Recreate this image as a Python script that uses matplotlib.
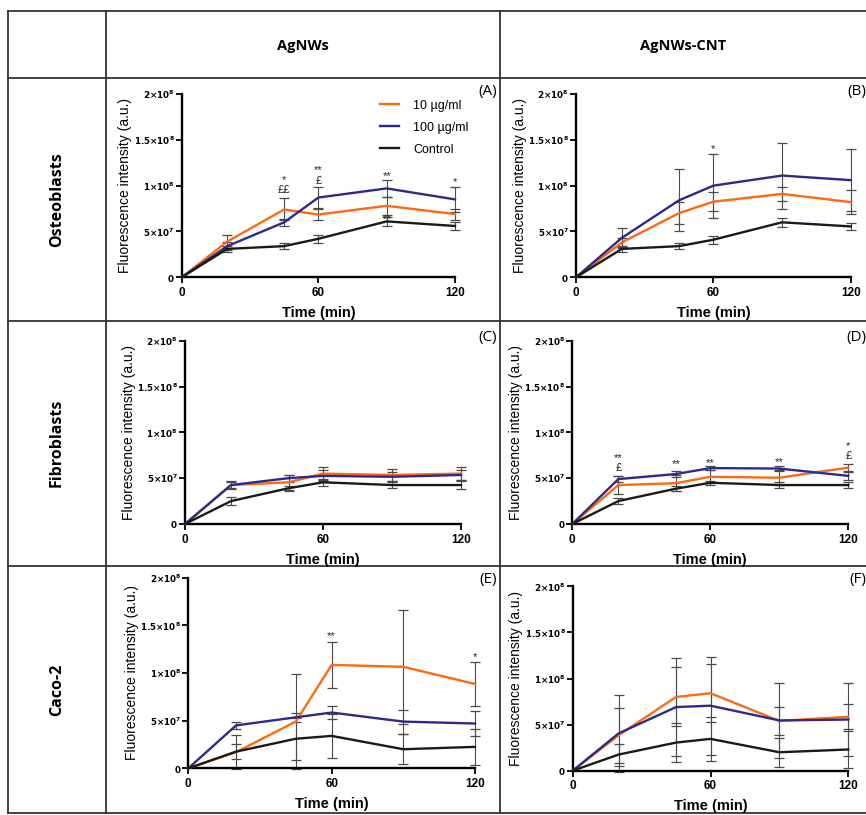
import matplotlib
matplotlib.use("Agg")
from matplotlib import pyplot as plt
import numpy as np

plt.rcParams['mathtext.fontset'] = 'dejavusans'

# time points (min) and values in units of 1e7 a.u.
times = [0, 20, 45, 60, 90, 120]

a_10 = [0, 3.9, 7.4, 6.85, 7.8, 6.9]
a_10_err = [0, 0.7, 1.2, 0.65, 1.0, 0.6]
a_100 = [0, 3.4, 6.0, 8.7, 9.7, 8.5]
a_100_err = [0, 0.4, 0.4, 1.15, 0.9, 1.4]
a_ctrl = [0, 3.1, 3.4, 4.2, 6.1, 5.6]
a_ctrl_err = [0, 0.3, 0.3, 0.45, 0.5, 0.4]

b_10 = [0, 3.8, 7.0, 8.25, 9.1, 8.2]
b_10_err = [0, 0.5, 1.2, 1.05, 0.8, 1.3]
b_100 = [0, 4.3, 8.4, 10.0, 11.1, 10.6]
b_100_err = [0, 1.1, 3.4, 3.5, 3.6, 3.4]
b_ctrl = [0, 3.1, 3.4, 4.1, 6.0, 5.55]
b_ctrl_err = [0, 0.3, 0.3, 0.45, 0.5, 0.4]

c_10 = [0, 4.25, 4.55, 5.5, 5.35, 5.5]
c_10_err = [0, 0.4, 0.8, 0.75, 0.65, 0.7]
c_100 = [0, 4.25, 5.0, 5.25, 5.15, 5.35]
c_100_err = [0, 0.35, 0.4, 0.6, 0.5, 0.5]
c_ctrl = [0, 2.5, 3.9, 4.55, 4.25, 4.25]
c_ctrl_err = [0, 0.4, 0.3, 0.4, 0.35, 0.4]

d_10 = [0, 4.25, 4.45, 5.15, 5.05, 6.15]
d_10_err = [0, 1.0, 0.9, 0.7, 0.8, 0.4]
d_100 = [0, 4.9, 5.45, 6.1, 6.05, 5.25]
d_100_err = [0, 0.3, 0.3, 0.2, 0.3, 0.45]
d_ctrl = [0, 2.5, 3.85, 4.5, 4.25, 4.25]
d_ctrl_err = [0, 0.3, 0.25, 0.2, 0.35, 0.3]

e_10 = [0, 1.7, 4.9, 10.85, 10.65, 8.85]
e_10_err = [0, 1.8, 5.0, 2.4, 6.0, 2.35]
e_100 = [0, 4.5, 5.35, 5.85, 4.9, 4.7]
e_100_err = [0, 0.35, 0.5, 0.65, 1.25, 1.3]
e_ctrl = [0, 1.75, 3.1, 3.4, 2.0, 2.25]
e_ctrl_err = [0, 0.75, 2.2, 2.35, 1.6, 1.9]

f_10 = [0, 3.85, 8.0, 8.4, 5.4, 5.85]
f_10_err = [0, 3.0, 3.2, 3.15, 1.5, 1.35]
f_100 = [0, 4.05, 6.9, 7.05, 5.45, 5.55]
f_100_err = [0, 4.15, 5.3, 5.3, 4.05, 3.95]
f_ctrl = [0, 1.75, 3.05, 3.45, 2.0, 2.3]
f_ctrl_err = [0, 1.2, 2.15, 2.4, 1.6, 2.0]

# significance marks: (time, level in 1e7, text); stars sit above the level, £ below it
a_marks = [(45, 10.1, '*'), (45, 10.1, '££'), (60, 11.1, '**'), (60, 11.1, '£'),
           (90, 10.5, '**'), (90, 5.8, '**'), (120, 9.8, '*')]
b_marks = [(60, 13.4, '*')]
c_marks = []
d_marks = [(20, 6.7, '**'), (20, 6.7, '£'), (45, 5.95, '**'), (60, 6.1, '**'),
           (90, 6.2, '**'), (120, 8.0, '*'), (120, 8.0, '£')]
e_marks = [(60, 13.3, '**'), (120, 11.1, '*')]
f_marks = []

series_labels = ['10 µg/ml', '100 µg/ml', 'Control']
colors = ['#FF6A10', '#2D2A8E', '#1A1A1A']
col_titles = ['AgNWs', 'AgNWs-CNT']
row_titles = ['Osteoblasts', 'Fibroblasts', 'Caco-2']
panel_tags = ['(A)', '(B)', '(C)', '(D)', '(E)', '(F)']
yticks = [0, 5e7, 1e8, 1.5e8, 2e8]
yticklabels = [r'$\mathbf{0}$', r'$\mathbf{5{\times}10^{7}}$', r'$\mathbf{1{\times}10^{8}}$',
               r'$\mathbf{1.5{\times}10^{8}}$', r'$\mathbf{2{\times}10^{8}}$']

W, H = 866, 815
fig = plt.figure(figsize=(W / 100, H / 100), dpi=100)
fig.patch.set_facecolor('white')

# table grid drawn in pixel coordinates
bg = fig.add_axes([0, 0, 1, 1])
bg.set_xlim(0, W)
bg.set_ylim(H, 0)
bg.axis('off')
lc = '#333333'
for x in [8, 106, 500]:
    bg.plot([x, x], [11, 813], color=lc, lw=1.3)
for y in [11, 78, 321, 566, 813]:
    bg.plot([8, W], [y, y], color=lc, lw=1.3)
hfont = ['Open Sans', 'DejaVu Sans']
bg.text(303, 46, col_titles[0], ha='center', va='center', fontsize=10.5, fontweight='bold', family=hfont)
bg.text(683, 46, col_titles[1], ha='center', va='center', fontsize=10.5, fontweight='bold', family=hfont)
for yc, t in zip([200, 443, 690], row_titles):
    bg.text(57, yc, t, ha='center', va='center', rotation=90, fontsize=11.5, fontweight='bold', family=hfont)
tag_pos = [(497, 92), (866, 92), (497, 337), (866, 337), (497, 580), (866, 579)]
for (tx, ty), tag in zip(tag_pos, panel_tags):
    bg.text(tx, ty, tag, ha='right', va='center', fontsize=11, family=hfont)


def px_rect(x0, x1, ytop, ybot):
    return [x0 / W, 1 - ybot / H, (x1 - x0) / W, (ybot - ytop) / H]


panels = [
    (px_rect(181.7, 455, 94, 277.3), (a_10, a_100, a_ctrl), (a_10_err, a_100_err, a_ctrl_err), a_marks),
    (px_rect(576, 850.7, 94, 277.3), (b_10, b_100, b_ctrl), (b_10_err, b_100_err, b_ctrl_err), b_marks),
    (px_rect(185, 461, 340.7, 524), (c_10, c_100, c_ctrl), (c_10_err, c_100_err, c_ctrl_err), c_marks),
    (px_rect(572.3, 848.3, 340.7, 524), (d_10, d_100, d_ctrl), (d_10_err, d_100_err, d_ctrl_err), d_marks),
    (px_rect(188.3, 475, 577.7, 768.3), (e_10, e_100, e_ctrl), (e_10_err, e_100_err, e_ctrl_err), e_marks),
    (px_rect(572.7, 848.3, 586.3, 770.7), (f_10, f_100, f_ctrl), (f_10_err, f_100_err, f_ctrl_err), f_marks),
]

afont = ['Liberation Sans', 'DejaVu Sans']
t = np.array(times)
for i, (rect, vals, errs, marks) in enumerate(panels):
    ax = fig.add_axes(rect)
    ax.patch.set_alpha(0)
    for v, e, c, lab in zip(vals, errs, colors, series_labels):
        v = np.array(v) * 1e7
        e = np.array(e) * 1e7
        ax.errorbar(t[1:], v[1:], yerr=e[1:], fmt='none', ecolor='#4a4a4a',
                    elinewidth=0.8, capsize=3.5, capthick=0.9, zorder=2, clip_on=False)
        ax.plot(t, v, color=c, lw=1.7, label=lab, zorder=3, clip_on=False)
    for tx, ty, s in marks:
        va = 'top' if s.startswith('£') else 'bottom'
        ax.text(tx, ty * 1e7, s, ha='center', va=va, fontsize=8, color='#222222', family=afont)
    ax.set_xlim(0, 120)
    ax.set_ylim(0, 2e8)
    ax.set_xticks([0, 60, 120])
    ax.set_xticklabels(['0', '60', '120'], fontsize=8.5, fontweight='bold', family=afont)
    ax.set_yticks(yticks)
    ax.set_yticklabels(yticklabels, fontsize=6.3)
    for s in ['top', 'right']:
        ax.spines[s].set_visible(False)
    for s in ['left', 'bottom']:
        ax.spines[s].set_linewidth(1.7)
    ax.tick_params(direction='out', length=4, width=1.3)
    ax.tick_params(axis='y', pad=1)
    ax.tick_params(axis='x', pad=3)
    ax.set_xlabel('Time (min)', fontsize=10.5, fontweight='bold', family=afont, labelpad=5)
    ax.set_ylabel('Fluorescence intensity (a.u.)', fontsize=10, family=afont, labelpad=1)
    if i == 0:
        ax.legend(loc='upper right', bbox_to_anchor=(1.09, 1.03), frameon=False,
                  handlelength=1.5, handletextpad=1.1, labelspacing=0.8,
                  prop={'family': afont, 'size': 9})

fig.savefig('out.png', dpi=100)
